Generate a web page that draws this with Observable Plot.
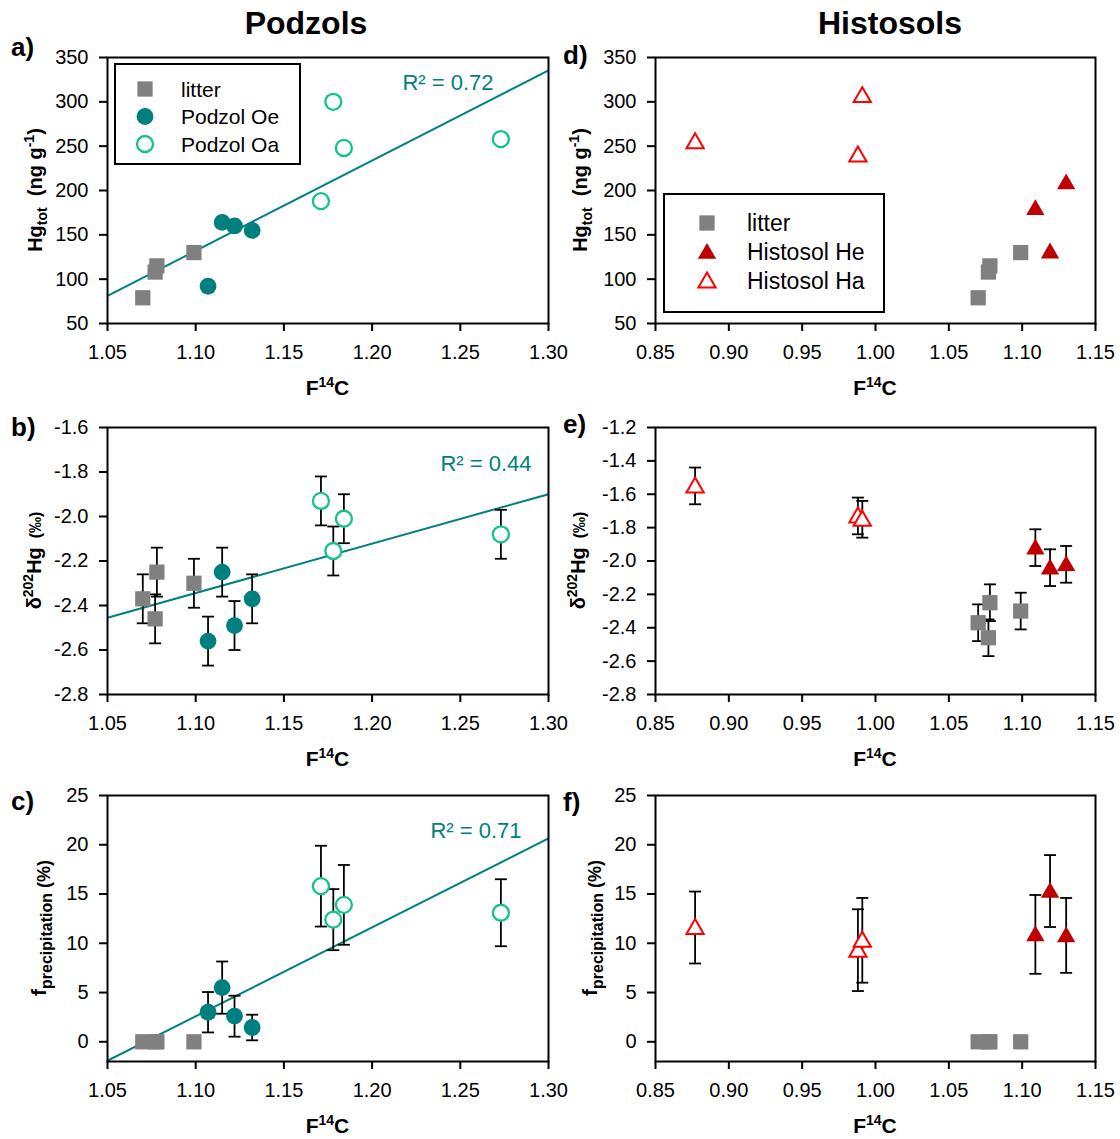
<!DOCTYPE html>
<html>
<head>
<meta charset="utf-8">
<script src="https://cdn.jsdelivr.net/npm/d3@7"></script>
<script src="https://cdn.jsdelivr.net/npm/@observablehq/plot@0.6"></script>
<style>
  body { margin: 0; background: #fff; }
  #fig { position: relative; width: 1120px; height: 1139px; overflow: hidden; background: #fff;
         font-family: "Liberation Sans", Arial, sans-serif; }
  .panel { position: absolute; }
  .panel svg { overflow: visible; display: block; }
  #overlay { position: absolute; left: 0; top: 0; pointer-events: none; }
</style>
</head>
<body>
<div id="fig"></div>
<script>
// ---- Sample data: F14C against Hg concentration, δ202Hg and precipitation fraction ----

// litter (shared by both soil types)
const litterF14C   = [1.070, 1.077, 1.078, 1.099];
const litterHg     = [79, 108, 115, 130];
const litterD202   = [-2.37, -2.46, -2.25, -2.30];
const litterD202Sd = [0.11, 0.11, 0.11, 0.11];
const litterFprec  = [0, 0, 0, 0];

// Podzol Oe horizon
const oeF14C    = [1.107, 1.115, 1.122, 1.132];
const oeHg      = [92, 164, 160, 155];
const oeD202    = [-2.56, -2.25, -2.49, -2.37];
const oeD202Sd  = [0.11, 0.11, 0.11, 0.11];
const oeFprec   = [3.0, 5.5, 2.6, 1.45];
const oeFprecSd = [2.05, 2.65, 2.08, 1.3];

// Podzol Oa horizon
const oaF14C    = [1.171, 1.178, 1.184, 1.273];
const oaHg      = [188, 300, 248, 258];
const oaD202    = [-1.93, -2.155, -2.01, -2.08];
const oaD202Sd  = [0.11, 0.11, 0.11, 0.11];
const oaFprec   = [15.8, 12.4, 13.9, 13.1];
const oaFprecSd = [4.1, 3.1, 4.05, 3.4];

// Histosol He horizon
const heF14C    = [1.109, 1.119, 1.130];
const heHg      = [180, 131, 209];
const heD202    = [-1.92, -2.04, -2.02];
const heD202Sd  = [0.11, 0.11, 0.11];
const heFprec   = [10.9, 15.3, 10.8];
const heFprecSd = [4.0, 3.65, 3.8];

// Histosol Ha horizon
const haF14C    = [0.877, 0.988, 0.991];
const haHg      = [255, 240, 307];
const haD202    = [-1.55, -1.73, -1.75];
const haD202Sd  = [0.11, 0.11, 0.11];
const haFprec   = [11.6, 9.3, 10.3];
const haFprecSd = [3.65, 4.15, 4.3];

// Axis ticks and domains
const xTicksPodzol   = [1.05, 1.10, 1.15, 1.20, 1.25, 1.30];
const xTicksHistosol = [0.85, 0.90, 0.95, 1.00, 1.05, 1.10, 1.15];
const yTicksHg       = [50, 100, 150, 200, 250, 300, 350];
const yTicksD202P    = [-2.8, -2.6, -2.4, -2.2, -2.0, -1.8, -1.6];
const yTicksD202H    = [-2.8, -2.6, -2.4, -2.2, -2.0, -1.8, -1.6, -1.4, -1.2];
const yTicksFprec    = [0, 5, 10, 15, 20, 25];

// Coefficients of determination of the Podzol regressions
const r2Labels = { hg: "R² = 0.72", d202: "R² = 0.44", fprec: "R² = 0.71" };

// ---- Styles ----
const TEAL = "#008080";
const styles = {
  litter: { symbol: "square",   r: 8.6, fill: "#808080" },
  oe:     { symbol: "circle",   r: 8.4, fill: "#007f7f" },
  oa:     { symbol: "circle",   r: 8.0, fill: "white", stroke: "#14c290", strokeWidth: 2.3 },
  he:     { symbol: "triangle", r: 6.8, fill: "#c00000" },
  ha:     { symbol: "triangle", r: 6.4, fill: "white", stroke: "#ff0000", strokeWidth: 2 }
};

// horizontal cap for error bars
const capSymbol = { draw(ctx) { ctx.moveTo(-6, 0); ctx.lineTo(6, 0); } };

const rowsOf = (xs, ys, sds) => xs.map((x, i) => ({ x, y: ys[i], e: sds ? sds[i] : 0 }));

function leastSquares(xs, ys) {
  const mx = d3.mean(xs), my = d3.mean(ys);
  let sxy = 0, sxx = 0;
  xs.forEach((x, i) => { sxy += (x - mx) * (ys[i] - my); sxx += (x - mx) ** 2; });
  const b = sxy / sxx;
  return x => my + b * (x - mx);
}

const fig = document.getElementById("fig");
const svgNS = "http://www.w3.org/2000/svg";

function makePanel(p) {
  const marks = [];
  const all = p.series.map(s => ({ ...s, rows: rowsOf(s.x, s.y, s.sd) }));

  if (p.fit) {
    const xs = all.flatMap(s => s.x), ys = all.flatMap(s => s.y);
    const f = leastSquares(xs, ys);
    const line = p.xDomain.map(x => ({ x, y: f(x) }));
    marks.push(Plot.line(line, { x: "x", y: "y", stroke: TEAL, strokeWidth: 2, clip: true }));
  }
  // error bars behind the markers
  for (const s of all) {
    if (!s.sd) continue;
    marks.push(Plot.ruleX(s.rows, { x: "x", y1: d => d.y - d.e, y2: d => d.y + d.e, stroke: "black", strokeWidth: 1.8 }));
    marks.push(Plot.dot(s.rows, { x: "x", y: d => d.y + d.e, symbol: capSymbol, fill: "none", stroke: "black", strokeWidth: 1.8 }));
    marks.push(Plot.dot(s.rows, { x: "x", y: d => d.y - d.e, symbol: capSymbol, fill: "none", stroke: "black", strokeWidth: 1.8 }));
  }
  for (const s of all) {
    const st = styles[s.kind];
    marks.push(Plot.dot(s.rows, { x: "x", y: "y", symbol: st.symbol, r: st.r, fill: st.fill,
      stroke: st.stroke || "none", strokeWidth: st.strokeWidth || 0, dy: st.symbol === "triangle" ? 1.5 : 0 }));
  }
  if (p.r2) {
    marks.push(Plot.text([p.r2], { text: d => d, frameAnchor: "top-right", textAnchor: "end", lineAnchor: "bottom",
      dx: p.r2dx, dy: p.r2dy, fill: TEAL, fontSize: 22 }));
  }
  marks.push(Plot.frame({ stroke: "black", strokeWidth: 2 }));
  marks.push(Plot.axisX({ ticks: p.xTicks, tickFormat: d => d.toFixed(2), tickSize: 8, tickPadding: 13,
    label: null, strokeWidth: 2 }));
  marks.push(Plot.axisY({ ticks: p.yTicks, tickFormat: p.yFormat, tickSize: 8, tickPadding: 11,
    label: null, strokeWidth: 2 }));

  const chart = Plot.plot({
    width: 560, height: p.height,
    marginTop: p.mt, marginBottom: p.mb, marginLeft: p.ml, marginRight: p.mr,
    x: { domain: p.xDomain },
    y: { domain: p.yDomain },
    style: { fontFamily: "'Liberation Sans', Arial, sans-serif", fontSize: "20px", color: "black",
             background: "transparent", overflow: "visible" },
    marks
  });

  const div = document.createElement("div");
  div.className = "panel";
  div.style.left = p.left + "px";
  div.style.top = p.top + "px";
  div.appendChild(chart);
  fig.appendChild(div);

  // axis titles with sub/superscripts
  const [x0, x1] = chart.scale("x").range;
  const [yb, yt] = chart.scale("y").range;
  const svg = d3.select(chart);

  const xt = svg.append("text").attr("x", (x0 + x1) / 2).attr("y", yb + 72)
    .attr("text-anchor", "middle").attr("font-weight", "bold").attr("font-size", 21).attr("fill", "black");
  xt.append("tspan").text("F");
  xt.append("tspan").attr("font-size", 14).attr("dy", -8).text("14");
  xt.append("tspan").attr("dy", 8).text("C");

  const yt0 = svg.append("text")
    .attr("transform", `translate(${x0 - p.yTitleOff},${(yb + yt) / 2}) rotate(-90)`)
    .attr("text-anchor", "middle").attr("font-weight", "bold").attr("font-size", 20)
    .attr("fill", "black").style("white-space", "pre");
  for (const part of p.yTitle) {
    const t = yt0.append("tspan").text(part.t);
    if (part.size) t.attr("font-size", part.size);
    if (part.dy) t.attr("dy", part.dy);
  }
}

const hgTitle   = [{ t: "Hg" }, { t: "tot", size: 14, dy: 5 }, { t: "  (ng g", size: 20, dy: -5 },
                   { t: "-1", size: 14, dy: -8 }, { t: ")", size: 20, dy: 8 }];
const d202Title = [{ t: "δ" }, { t: "202", size: 14, dy: -8 }, { t: "Hg", size: 20, dy: 8 },
                   { t: "  (‰)", size: 16 }];
const fTitle    = [{ t: "f", size: 21 }, { t: "precipitation", size: 16, dy: 6 }, { t: " (%)", size: 18, dy: -2 }];

const fmt1 = d => d.toFixed(1);
const fmt0 = d => String(d);

const podzolCommon = { left: 0, ml: 107, mr: 12, xDomain: [1.05, 1.30], xTicks: xTicksPodzol, fit: true };
const histoCommon  = { left: 560, ml: 95, mr: 25, xDomain: [0.85, 1.15], xTicks: xTicksHistosol, fit: false };
const row1 = { top: 0, height: 400, mt: 57, mb: 77 };
const row2 = { top: 380, height: 380, mt: 47, mb: 66 };
const row3 = { top: 760, height: 379, mt: 35, mb: 78 };

// a) Podzol Hg
makePanel({ ...podzolCommon, ...row1, yDomain: [50, 350], yTicks: yTicksHg, yFormat: fmt0,
  yTitle: hgTitle, yTitleOff: 65, r2: r2Labels.hg, r2dx: -55, r2dy: 32,
  series: [
    { kind: "litter", x: litterF14C, y: litterHg },
    { kind: "oe", x: oeF14C, y: oeHg },
    { kind: "oa", x: oaF14C, y: oaHg }
  ] });
// b) Podzol δ202Hg
makePanel({ ...podzolCommon, ...row2, yDomain: [-2.8, -1.6], yTicks: yTicksD202P, yFormat: fmt1,
  yTitle: d202Title, yTitleOff: 66, r2: r2Labels.d202, r2dx: -17, r2dy: 43,
  series: [
    { kind: "litter", x: litterF14C, y: litterD202, sd: litterD202Sd },
    { kind: "oe", x: oeF14C, y: oeD202, sd: oeD202Sd },
    { kind: "oa", x: oaF14C, y: oaD202, sd: oaD202Sd }
  ] });
// c) Podzol precipitation fraction
makePanel({ ...podzolCommon, ...row3, yDomain: [-2, 25], yTicks: yTicksFprec, yFormat: fmt0,
  yTitle: fTitle, yTitleOff: 61, r2: r2Labels.fprec, r2dx: -27, r2dy: 42,
  series: [
    { kind: "litter", x: litterF14C, y: litterFprec },
    { kind: "oe", x: oeF14C, y: oeFprec, sd: oeFprecSd },
    { kind: "oa", x: oaF14C, y: oaFprec, sd: oaFprecSd }
  ] });
// d) Histosol Hg
makePanel({ ...histoCommon, ...row1, yDomain: [50, 350], yTicks: yTicksHg, yFormat: fmt0,
  yTitle: hgTitle, yTitleOff: 68,
  series: [
    { kind: "litter", x: litterF14C, y: litterHg },
    { kind: "he", x: heF14C, y: heHg },
    { kind: "ha", x: haF14C, y: haHg }
  ] });
// e) Histosol δ202Hg
makePanel({ ...histoCommon, ...row2, yDomain: [-2.8, -1.2], yTicks: yTicksD202H, yFormat: fmt1,
  yTitle: d202Title, yTitleOff: 70,
  series: [
    { kind: "litter", x: litterF14C, y: litterD202, sd: litterD202Sd },
    { kind: "he", x: heF14C, y: heD202, sd: heD202Sd },
    { kind: "ha", x: haF14C, y: haD202, sd: haD202Sd }
  ] });
// f) Histosol precipitation fraction
makePanel({ ...histoCommon, ...row3, yDomain: [-2, 25], yTicks: yTicksFprec, yFormat: fmt0,
  yTitle: fTitle, yTitleOff: 58,
  series: [
    { kind: "litter", x: litterF14C, y: litterFprec },
    { kind: "he", x: heF14C, y: heFprec, sd: heFprecSd },
    { kind: "ha", x: haF14C, y: haFprec, sd: haFprecSd }
  ] });

// ---- Column headings, panel tags and legends ----
const ov = d3.select(fig).append("svg").attr("id", "overlay")
  .attr("width", 1120).attr("height", 1139)
  .style("font-family", "'Liberation Sans', Arial, sans-serif");

ov.append("text").attr("x", 306).attr("y", 34).attr("text-anchor", "middle")
  .attr("font-weight", "bold").attr("font-size", 32).text("Podzols");
ov.append("text").attr("x", 890).attr("y", 34).attr("text-anchor", "middle")
  .attr("font-weight", "bold").attr("font-size", 32).text("Histosols");

const tags = [["a)", 11, 56], ["b)", 11, 436], ["c)", 11, 810], ["d)", 563, 64], ["e)", 563, 433], ["f)", 563, 811]];
for (const [t, x, y] of tags) {
  ov.append("text").attr("x", x).attr("y", y).attr("font-weight", "bold").attr("font-size", 26).text(t);
}

function legend(box, items, fontSize) {
  const g = ov.append("g");
  g.append("rect").attr("x", box.x).attr("y", box.y).attr("width", box.w).attr("height", box.h)
    .attr("fill", "white").attr("stroke", "black").attr("stroke-width", 2);
  const types = { square: d3.symbolSquare, circle: d3.symbolCircle, triangle: d3.symbolTriangle };
  items.forEach((it, i) => {
    const st = styles[it.kind];
    const cy = box.rows[i];
    g.append("path")
      .attr("d", d3.symbol().type(types[st.symbol]).size(Math.PI * st.r * st.r)())
      .attr("transform", `translate(${box.mx},${cy + (st.symbol === "triangle" ? 1.5 : 0)})`)
      .attr("fill", st.fill).attr("stroke", st.stroke || "none").attr("stroke-width", st.strokeWidth || 0);
    g.append("text").attr("x", box.tx).attr("y", cy).attr("dy", "0.36em")
      .attr("font-size", fontSize).text(it.label);
  });
}

legend({ x: 115, y: 64, w: 185, h: 100, mx: 145, tx: 181, rows: [89, 116.5, 144] },
  [{ kind: "litter", label: "litter" }, { kind: "oe", label: "Podzol Oe" }, { kind: "oa", label: "Podzol Oa" }], 21);
legend({ x: 664, y: 194, w: 220, h: 118, mx: 707, tx: 747, rows: [223, 252, 281] },
  [{ kind: "litter", label: "litter" }, { kind: "he", label: "Histosol He" }, { kind: "ha", label: "Histosol Ha" }], 23);
</script>
</body>
</html>
